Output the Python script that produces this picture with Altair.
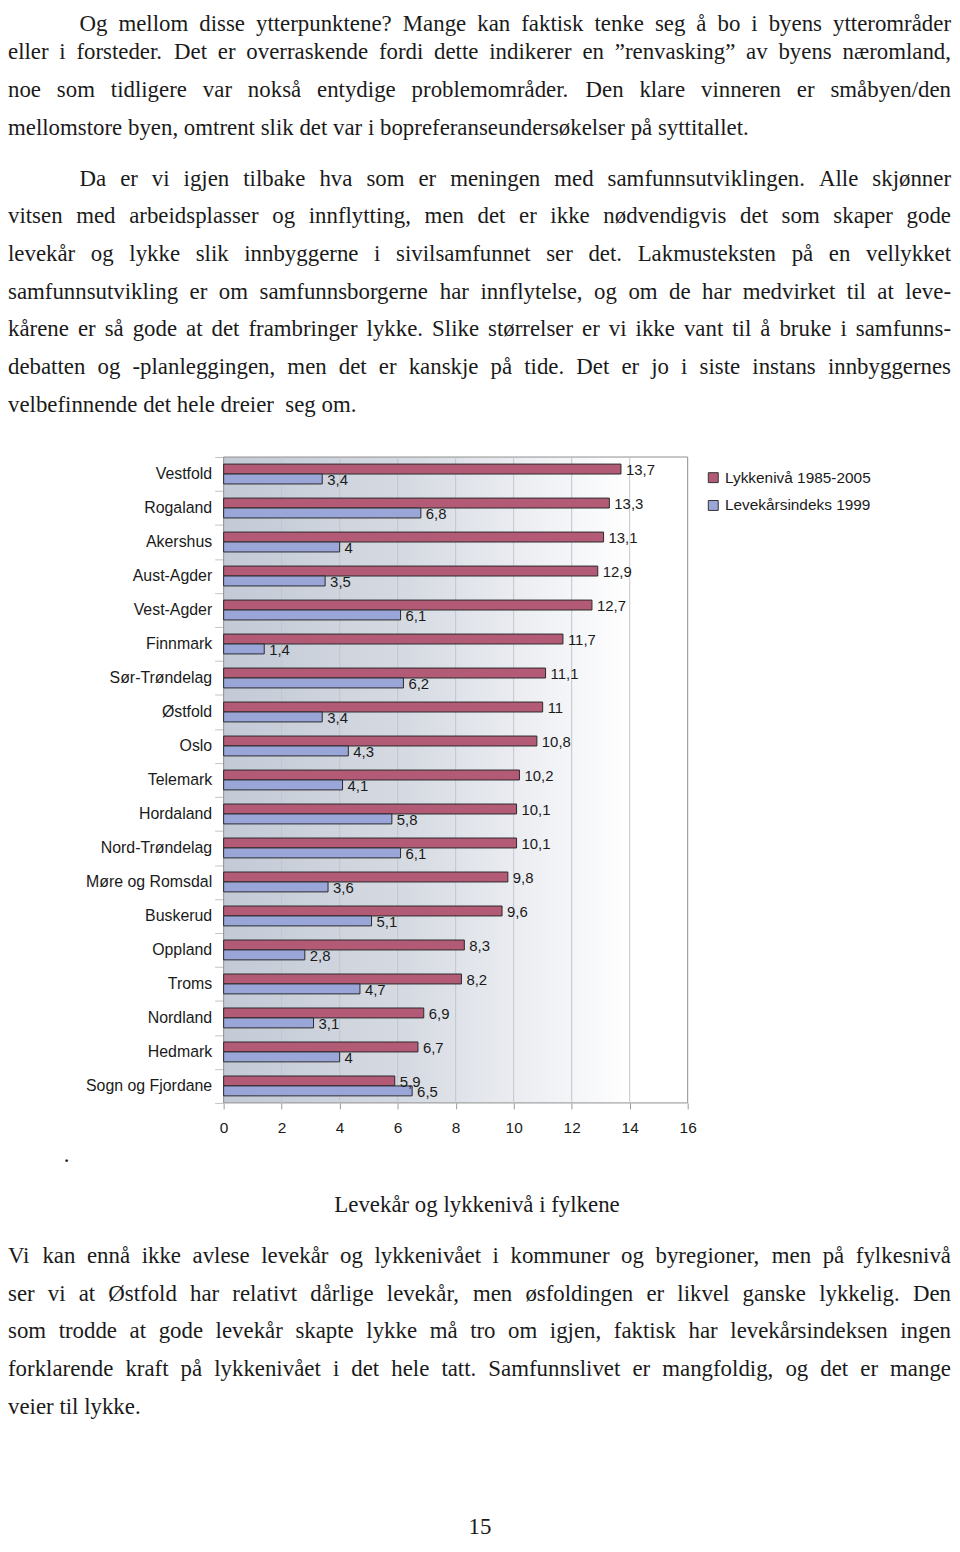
import altair as alt
import pandas as pd

# ---------------- data ----------------
counties = ["Vestfold", "Rogaland", "Akershus", "Aust-Agder", "Vest-Agder", "Finnmark",
            "Sør-Trøndelag", "Østfold", "Oslo", "Telemark", "Hordaland", "Nord-Trøndelag",
            "Møre og Romsdal", "Buskerud", "Oppland", "Troms", "Nordland", "Hedmark",
            "Sogn og Fjordane"]
lykkeniva = [13.7, 13.3, 13.1, 12.9, 12.7, 11.7, 11.1, 11.0, 10.8, 10.2, 10.1, 10.1,
             9.8, 9.6, 8.3, 8.2, 6.9, 6.7, 5.9]
levekar = [3.4, 6.8, 4.0, 3.5, 6.1, 1.4, 6.2, 3.4, 4.3, 4.1, 5.8, 6.1,
           3.6, 5.1, 2.8, 4.7, 3.1, 4.0, 6.5]
series_names = ["Lykkenivå 1985-2005", "Levekårsindeks 1999"]
x_ticks = [0, 2, 4, 6, 8, 10, 12, 14, 16]

para1 = [
    "Og mellom disse ytterpunktene? Mange kan faktisk tenke seg å bo i byens ytterområder",
    "eller i forsteder. Det er overraskende fordi dette indikerer en ”renvasking” av byens næromland,",
    "noe som tidligere var nokså entydige problemområder. Den klare vinneren er småbyen/den",
    "mellomstore byen, omtrent slik det var i bopreferanseundersøkelser på syttitallet.",
]
para2 = [
    "Da er vi igjen tilbake hva som er meningen med samfunnsutviklingen. Alle skjønner",
    "vitsen med arbeidsplasser og innflytting, men det er ikke nødvendigvis det som skaper gode",
    "levekår og lykke slik innbyggerne i sivilsamfunnet ser det. Lakmusteksten på en vellykket",
    "samfunnsutvikling er om samfunnsborgerne har innflytelse, og om de har medvirket til at leve-",
    "kårene er så gode at det frambringer lykke. Slike størrelser er vi ikke vant til å bruke i samfunns-",
    "debatten og -planleggingen, men det er kanskje på tide. Det er jo i siste instans innbyggernes",
    "velbefinnende det hele dreier  seg om.",
]
para3 = [
    "Vi kan ennå ikke avlese levekår og lykkenivået i kommuner og byregioner, men på fylkesnivå",
    "ser vi at Østfold har relativt dårlige levekår, men øsfoldingen er likvel ganske lykkelig. Den",
    "som trodde at gode levekår skapte lykke må tro om igjen, faktisk har levekårsindeksen ingen",
    "forklarende kraft på lykkenivået i det hele tatt. Samfunnslivet er mangfoldig, og det er mange",
    "veier til lykke.",
]
caption = "Levekår og lykkenivå i fylkene"
stray_dot = "."
page_number = "15"

# ---------------- styles / layout ----------------
SERIF = "Liberation Serif"
SANS = "Liberation Sans"
INK = "#1a1a1a"
RED = "#b35a76"
BLUE = "#9aa5d8"
BAR_STROKE = "#2b2b2b"
BORDER = "#8e8e8e"
GRID = "#c3c6cc"
FS = 23
LEAD = 37.9
TEXT_W = 950
TOP_H = 447      # page y 8 -> 455
PLOT_W, PLOT_H = 467, 650
LEFT_GAP = 217   # page x 8 -> 225
BOT_H = 439      # page y 1105 -> 1544

# Times / Liberation Serif advance widths (1/1000 em)
TIMES = {}
for chars, w in [(" ,.", 250), ("bdghknopquvxy0123456789ø", 500), ("acez?”å", 444),
                 ("ijlt/:;", 278), ("fr-()I", 333), ("sJ", 389), ("m", 778),
                 ("wADGHKNOQUVXYØÅ", 722), ("BCRæ", 667), ("ELTZ", 611), ("FPS", 556),
                 ("MÆ", 889), ("W", 944)]:
    for ch in chars:
        TIMES[ch] = w


def em_width(s):
    return sum(TIMES.get(c, 500) for c in s) / 1000.0


def layout_paragraph(lines, baselines, x_first, x_left, x_right, fs):
    rows = []
    for i, line in enumerate(lines):
        yb = baselines[i]
        x0 = x_first if i == 0 else x_left
        last = i == len(lines) - 1
        if last:
            x = x0
            for w in line.split(" "):
                if w:
                    rows.append(dict(t=w, x=x, y=yb, fs=fs, al="left"))
                x += (em_width(w) + 0.25) * fs
            continue
        words = [w for w in line.split(" ") if w]
        ems = sum(em_width(w) for w in words)
        gaps = len(words) - 1
        f = fs
        gap = (x_right - x0 - ems * f) / gaps
        if gap < 0.16 * f:
            f = (x_right - x0) / (ems + 0.16 * gaps)
            gap = 0.16 * f
        x = x0
        for j, w in enumerate(words):
            if j == len(words) - 1:
                rows.append(dict(t=w, x=x_right, y=yb, fs=f, al="right"))
            else:
                rows.append(dict(t=w, x=x, y=yb, fs=f, al="left"))
            x += em_width(w) * f + gap
    return rows


def text_chart(rows, y_lo, y_hi, height):
    df = pd.DataFrame(rows)
    base = alt.Chart(df)
    layers = []
    for al in ["left", "right", "center"]:
        layers.append(
            base.transform_filter(alt.datum.al == al)
            .mark_text(align=al, baseline="alphabetic", font=SERIF, color=INK)
            .encode(
                x=alt.X("x:Q", scale=alt.Scale(domain=[0, TEXT_W], nice=False, zero=False), axis=None),
                y=alt.Y("y:Q", scale=alt.Scale(domain=[y_lo, y_hi], reverse=True, nice=False, zero=False), axis=None),
                size=alt.Size("fs:Q", scale=None),
                text="t:N",
            )
        )
    return alt.layer(*layers).properties(width=TEXT_W, height=height)


# baselines in page pixels
p1_base = [26.5, 54.8, 92.7, 130.6]
p2_base = [182.0 + i * LEAD for i in range(len(para2))]
p3_base = [1266.0 + i * LEAD for i in range(len(para3))]

top_rows = layout_paragraph(para1, p1_base, 72, 0, 949, FS)
top_rows += layout_paragraph(para2, p2_base, 72, 0, 949, FS)
top = text_chart(top_rows, 8, 8 + TOP_H, TOP_H)

bottom_rows = layout_paragraph(para3, p3_base, 0, 0, 949, FS)
bottom_rows.append(dict(t=caption, x=472, y=1215, fs=FS, al="center"))
bottom_rows.append(dict(t=stray_dot, x=59, y=1164, fs=FS, al="center"))
bottom_rows.append(dict(t=page_number, x=475, y=1539, fs=FS, al="center"))
bottom = text_chart(bottom_rows, 1105, 1105 + BOT_H, BOT_H)

# ---------------- bar chart ----------------
def fmt(v):
    return f"{v:g}".replace(".", ",")


recs = []
for c, a, b in zip(counties, lykkeniva, levekar):
    recs.append(dict(county=c, serie=series_names[0], value=a, label=fmt(a)))
    recs.append(dict(county=c, serie=series_names[1], value=b, label=fmt(b)))
bdf = pd.DataFrame(recs)

x_scale = alt.Scale(domain=[x_ticks[0], x_ticks[-1]], nice=False,
                    range=[LEFT_GAP, LEFT_GAP + PLOT_W])
x_axis = alt.Axis(values=x_ticks, grid=False, domain=False, ticks=True, tickColor="#9a9a9a",
                  tickSize=6, labelPadding=12, labelFont=SANS, labelFontSize=15.5,
                  labelColor=INK, format="d", labelFlush=False, title=None)
y_enc = alt.Y("county:N", sort=counties, title=None,
              scale=alt.Scale(paddingInner=0, paddingOuter=0),
              axis=alt.Axis(domain=False, grid=False, ticks=True, tickBand="extent",
                            tickColor="#c4c4c4", tickSize=9, labelPadding=3,
                            offset=-LEFT_GAP,
                            labelFont=SANS, labelFontSize=16, labelColor=INK))
yoff = alt.YOffset("serie:N", sort=series_names,
                   scale=alt.Scale(domain=series_names, paddingInner=0, paddingOuter=0.71))

grad = alt.Gradient(
    gradient="linear", x1=0, x2=1, y1=0, y2=0,
    stops=[alt.GradientStop(color="#c3cad6", offset=0),
           alt.GradientStop(color="#d6dae2", offset=0.4),
           alt.GradientStop(color="#eceef2", offset=0.65),
           alt.GradientStop(color="#ffffff", offset=0.88),
           alt.GradientStop(color="#ffffff", offset=1)])

bg = alt.Chart(pd.DataFrame({"lo": [x_ticks[0]], "hi": [x_ticks[-1]]})).mark_rect(
    fill=grad, stroke=BORDER, strokeWidth=1
).encode(x=alt.X("lo:Q", scale=x_scale, axis=x_axis), x2="hi:Q")

grid = alt.Chart(pd.DataFrame({"t": x_ticks[1:-1]})).mark_rule(
    color=GRID, strokeWidth=1
).encode(x=alt.X("t:Q", scale=x_scale, axis=x_axis))

# legends of a concatenated chart sit in the top-level group: page coords minus 8px margin
bars = alt.Chart(bdf).mark_bar(stroke=BAR_STROKE, strokeWidth=1).encode(
    x=alt.X("value:Q", scale=x_scale, axis=x_axis),
    y=y_enc,
    yOffset=yoff,
    color=alt.Color("serie:N", sort=series_names,
                    scale=alt.Scale(domain=series_names, range=[RED, BLUE]),
                    legend=alt.Legend(title=None, orient="none",
                                      legendX=702, legendY=460,
                                      symbolType="square", symbolSize=100,
                                      symbolStrokeColor="#333333", symbolStrokeWidth=1,
                                      labelFont=SANS, labelFontSize=15.5, labelColor=INK,
                                      rowPadding=11, labelOffset=4, padding=0,
                                      labelLimit=300)),
)

labels = alt.Chart(bdf).mark_text(
    align="left", baseline="middle", dx=5, dy=1, font=SANS, fontSize=15, color=INK
).encode(
    x=alt.X("value:Q", scale=x_scale, axis=x_axis),
    y=y_enc,
    yOffset=yoff,
    text="label:N",
)

middle = alt.layer(bg, grid, bars, labels).properties(width=LEFT_GAP + PLOT_W, height=PLOT_H)

chart = alt.vconcat(top, middle, bottom, spacing=0, bounds="flush").properties(
    padding=0, background="white"
).configure_view(stroke=None)

chart.save("out.html", embed_options={"renderer": "svg", "actions": False})
